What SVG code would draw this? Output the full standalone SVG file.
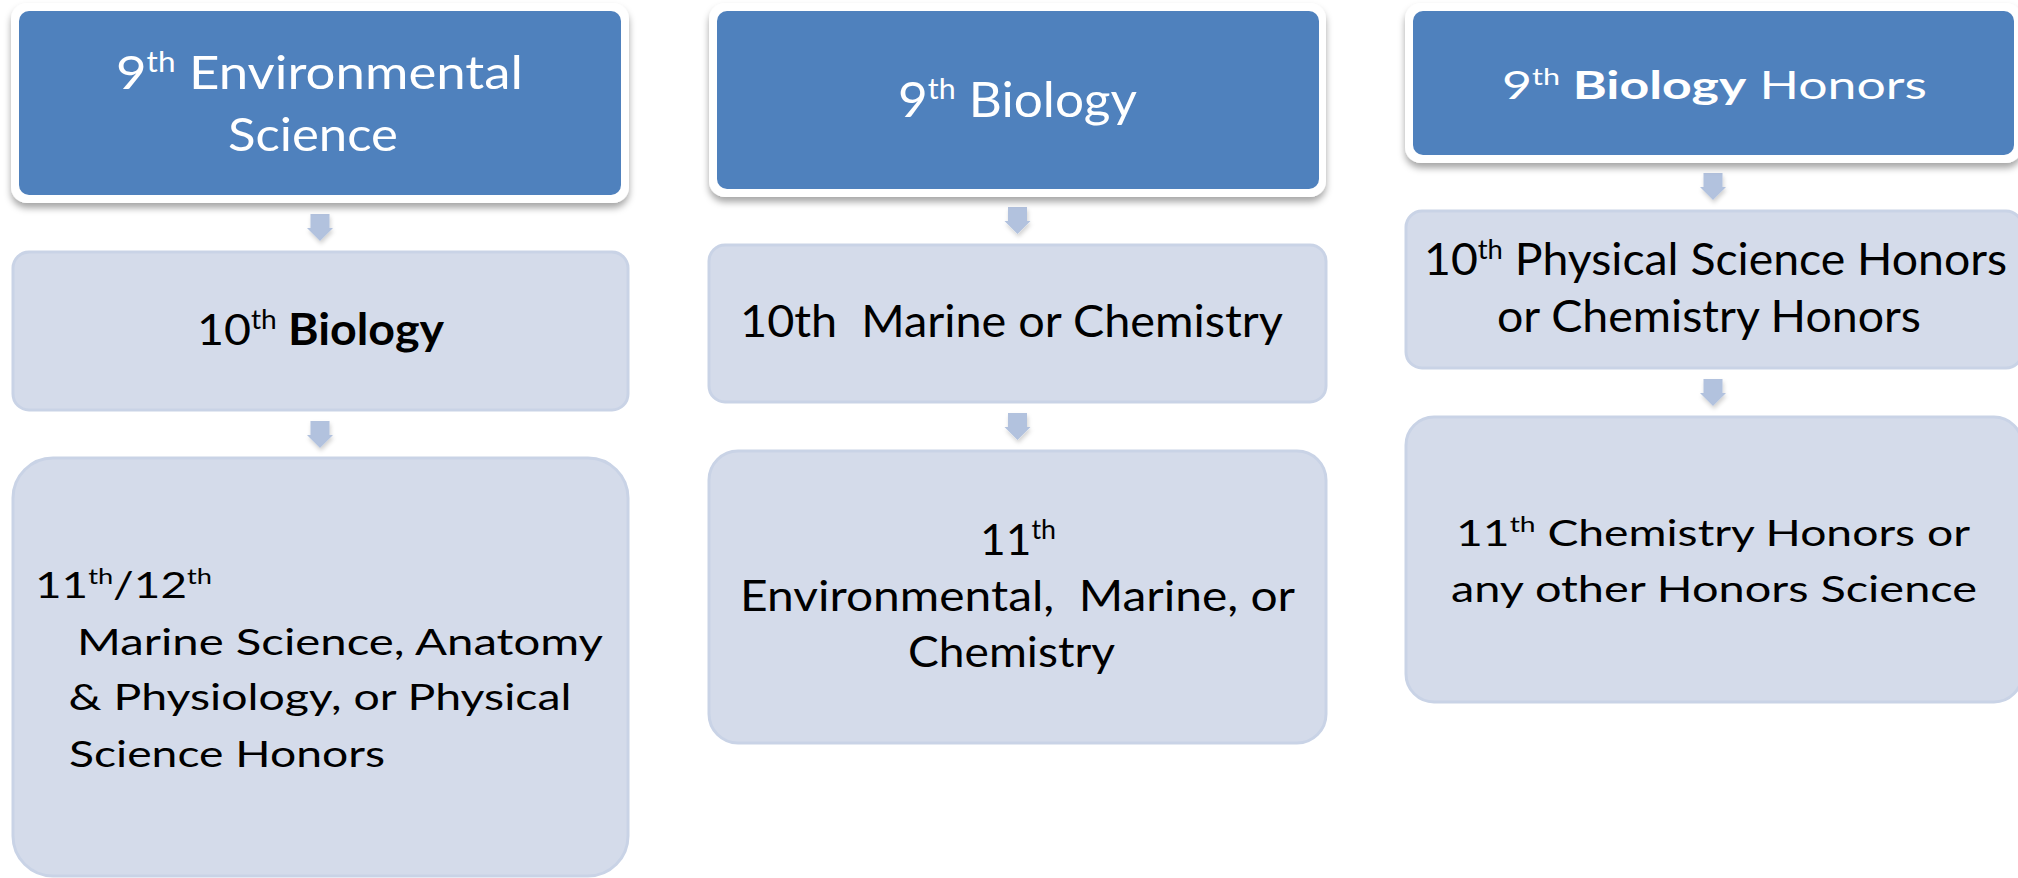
<svg xmlns="http://www.w3.org/2000/svg" width="2018" height="878" viewBox="0 0 2018 878">
<style>
.t{font-family:Lato,"Liberation Sans",sans-serif}
.w{fill:#FFFFFF}
.k{fill:#000000}
.b{font-weight:bold}
.frame{fill:#FFFFFF}
.blue{fill:#4F81BD}
.light{fill:#D4DBEA;stroke:#C9D3E6;stroke-width:3}
.arrow{fill:#B2C2DE}
</style>
<defs>
<filter id="sh" x="-5%" y="-5%" width="110%" height="120%">
<feDropShadow dx="0" dy="5" stdDeviation="3.5" flood-color="#000000" flood-opacity="0.35"/>
</filter>
<filter id="ash" x="-50%" y="-30%" width="200%" height="170%">
<feDropShadow dx="1" dy="3" stdDeviation="2" flood-color="#000000" flood-opacity="0.18"/>
</filter>
<path id="arr" d="M-9.5,0 L9.5,0 L9.5,14 L13,14 L0,27 L-13,14 L-9.5,14 Z"/>
</defs>

<g id="connectors">
<use href="#arr" class="arrow" filter="url(#ash)" transform="translate(320,214)"/>
<use href="#arr" class="arrow" filter="url(#ash)" transform="translate(320,421)"/>
<use href="#arr" class="arrow" filter="url(#ash)" transform="translate(1017.5,207)"/>
<use href="#arr" class="arrow" filter="url(#ash)" transform="translate(1017.5,413)"/>
<use href="#arr" class="arrow" filter="url(#ash)" transform="translate(1713,173)"/>
<use href="#arr" class="arrow" filter="url(#ash)" transform="translate(1713,379)"/>
</g>

<g id="c1-9">
<rect class="frame" filter="url(#sh)" x="11" y="3" width="618" height="200" rx="16"/>
<rect class="blue" x="19" y="11" width="602" height="184" rx="10"/>
<text class="t w" x="116" y="89" font-size="47" textLength="407" lengthAdjust="spacingAndGlyphs">9<tspan font-size="28" dy="-17">th</tspan><tspan dy="17"> Environmental</tspan></text>
<text class="t w" x="228" y="151" font-size="47" textLength="170" lengthAdjust="spacingAndGlyphs">Science</text>
</g>

<g id="c1-10">
<rect class="light" x="13" y="252" width="615" height="158" rx="16"/>
<text class="t k" x="197" y="345" font-size="43" textLength="247" lengthAdjust="spacingAndGlyphs">10<tspan font-size="26" dy="-16">th</tspan><tspan dy="16" class="b"> Biology</tspan></text>
</g>

<g id="c1-11">
<rect class="light" x="13" y="458" width="615" height="418" rx="40"/>
<text class="t k" x="35" y="598" font-size="37" textLength="177" lengthAdjust="spacingAndGlyphs">11<tspan font-size="22" dy="-14">th</tspan><tspan dy="14">/12</tspan><tspan font-size="22" dy="-14">th</tspan></text>
<text class="t k" x="77" y="655" font-size="37" textLength="526" lengthAdjust="spacingAndGlyphs">Marine Science, Anatomy</text>
<text class="t k" x="68.5" y="710" font-size="37" textLength="503" lengthAdjust="spacingAndGlyphs">&amp; Physiology, or Physical</text>
<text class="t k" x="69" y="767" font-size="37" textLength="316" lengthAdjust="spacingAndGlyphs">Science Honors</text>
</g>

<g id="c2-9">
<rect class="frame" filter="url(#sh)" x="709" y="3" width="617" height="194" rx="16"/>
<rect class="blue" x="717" y="11" width="602" height="178" rx="10"/>
<text class="t w" x="898" y="117" font-size="49" textLength="239" lengthAdjust="spacingAndGlyphs">9<tspan font-size="29" dy="-18">th</tspan><tspan dy="18"> Biology</tspan></text>
</g>

<g id="c2-10">
<rect class="light" x="709" y="245" width="617" height="157" rx="16"/>
<text class="t k" x="740" y="337" font-size="45" textLength="543" lengthAdjust="spacingAndGlyphs" xml:space="preserve">10th  Marine or Chemistry</text>
</g>

<g id="c2-11">
<rect class="light" x="709" y="451" width="617" height="292" rx="29"/>
<text class="t k" x="980" y="555" font-size="43" textLength="76" lengthAdjust="spacingAndGlyphs">11<tspan font-size="26" dy="-16">th</tspan></text>
<text class="t k" x="740" y="611" font-size="43" textLength="555" lengthAdjust="spacingAndGlyphs" xml:space="preserve">Environmental,  Marine, or</text>
<text class="t k" x="908" y="667" font-size="43" textLength="207" lengthAdjust="spacingAndGlyphs">Chemistry</text>
</g>

<g id="c3-9">
<rect class="frame" filter="url(#sh)" x="1405" y="3" width="617" height="160" rx="16"/>
<rect class="blue" x="1413" y="11" width="601" height="144" rx="10"/>
<text class="t w" x="1502" y="99" font-size="39" textLength="425" lengthAdjust="spacingAndGlyphs">9<tspan font-size="23" dy="-14">th</tspan><tspan dy="14" class="b"> Biology</tspan> Honors</text>
</g>

<g id="c3-10">
<rect class="light" x="1406" y="211" width="616" height="157" rx="16"/>
<text class="t k" x="1424" y="275" font-size="44" textLength="583" lengthAdjust="spacingAndGlyphs">10<tspan font-size="26" dy="-16">th</tspan><tspan dy="16"> Physical Science Honors</tspan></text>
<text class="t k" x="1497" y="332" font-size="44" textLength="424" lengthAdjust="spacingAndGlyphs">or Chemistry Honors</text>
</g>

<g id="c3-11">
<rect class="light" x="1406" y="417" width="616" height="285" rx="28"/>
<text class="t k" x="1456" y="546" font-size="36" textLength="514" lengthAdjust="spacingAndGlyphs">11<tspan font-size="22" dy="-14">th</tspan><tspan dy="14"> Chemistry Honors or</tspan></text>
<text class="t k" x="1451" y="602" font-size="36" textLength="526" lengthAdjust="spacingAndGlyphs">any other Honors Science</text>
</g>
</svg>
